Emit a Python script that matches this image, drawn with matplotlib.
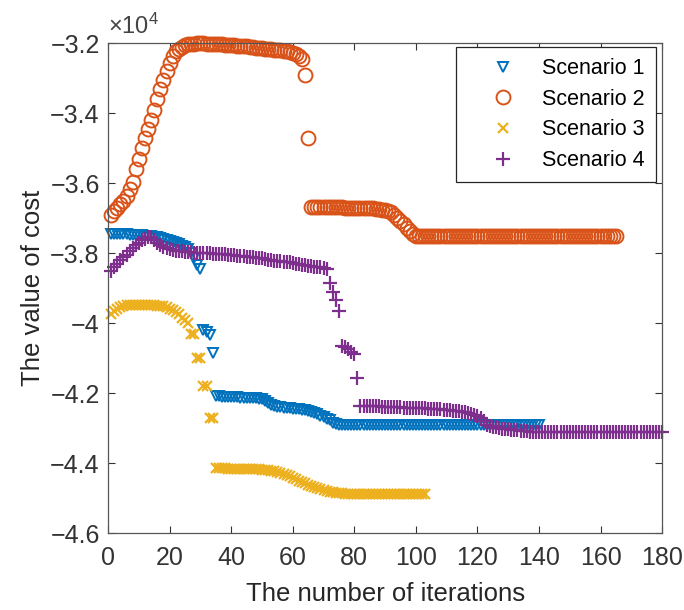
import numpy as np
import matplotlib
matplotlib.use('Agg')
import matplotlib.pyplot as plt
from matplotlib.ticker import FuncFormatter

# best cost per iteration (units of 1e4)
cost_s1 = [
    -3.745, -3.745, -3.745, -3.745, -3.746, -3.746, -3.747, -3.747, -3.748, -3.748,
    -3.749, -3.750, -3.751, -3.752, -3.753, -3.755, -3.757, -3.759, -3.761, -3.764,
    -3.767, -3.770, -3.774, -3.778, -3.783, -3.788, -3.800, -3.815, -3.835, -3.845,
    -4.020, -4.025, -4.035, -4.085, -4.208, -4.209, -4.210, -4.210, -4.211, -4.211,
    -4.212, -4.212, -4.213, -4.213, -4.214, -4.214, -4.215, -4.215, -4.216, -4.218,
    -4.222, -4.228, -4.233, -4.237, -4.239, -4.240, -4.241, -4.242, -4.243, -4.244,
    -4.245, -4.246, -4.247, -4.248, -4.250, -4.253, -4.256, -4.260, -4.264, -4.268,
    -4.273, -4.278, -4.284, -4.289, -4.291, -4.291, -4.291, -4.291, -4.291, -4.291,
    -4.291, -4.291, -4.291, -4.291, -4.291, -4.291, -4.291, -4.291, -4.291, -4.291,
    -4.291, -4.291, -4.291, -4.291, -4.291, -4.291, -4.291, -4.291, -4.291, -4.291,
    -4.291, -4.291, -4.291, -4.291, -4.291, -4.291, -4.291, -4.291, -4.291, -4.291,
    -4.291, -4.291, -4.291, -4.291, -4.291, -4.291, -4.291, -4.291, -4.291, -4.291,
    -4.291, -4.291, -4.291, -4.291, -4.291, -4.291, -4.291, -4.291, -4.291, -4.291,
    -4.291, -4.291, -4.291, -4.291, -4.291, -4.291, -4.291, -4.291, -4.291, -4.291,
]

cost_s2 = [
    -3.690, -3.680, -3.670, -3.660, -3.650, -3.635, -3.615, -3.595, -3.560, -3.530,
    -3.500, -3.470, -3.445, -3.420, -3.390, -3.360, -3.330, -3.305, -3.280, -3.255,
    -3.235, -3.222, -3.215, -3.210, -3.205, -3.203, -3.202, -3.201, -3.200, -3.200,
    -3.200, -3.201, -3.201, -3.202, -3.202, -3.203, -3.203, -3.204, -3.205, -3.205,
    -3.206, -3.207, -3.208, -3.208, -3.209, -3.210, -3.211, -3.212, -3.213, -3.214,
    -3.215, -3.216, -3.217, -3.218, -3.219, -3.220, -3.222, -3.223, -3.225, -3.227,
    -3.230, -3.235, -3.245, -3.290, -3.470, -3.667, -3.667, -3.667, -3.668, -3.668,
    -3.668, -3.668, -3.669, -3.669, -3.669, -3.669, -3.670, -3.670, -3.670, -3.670,
    -3.671, -3.671, -3.671, -3.672, -3.672, -3.672, -3.673, -3.674, -3.675, -3.677,
    -3.679, -3.683, -3.690, -3.698, -3.707, -3.717, -3.727, -3.737, -3.745, -3.750,
    -3.751, -3.751, -3.751, -3.751, -3.751, -3.751, -3.751, -3.751, -3.751, -3.751,
    -3.751, -3.751, -3.751, -3.751, -3.751, -3.751, -3.751, -3.751, -3.751, -3.751,
    -3.751, -3.751, -3.751, -3.751, -3.751, -3.751, -3.751, -3.751, -3.751, -3.751,
    -3.751, -3.751, -3.751, -3.751, -3.751, -3.751, -3.751, -3.751, -3.751, -3.751,
    -3.751, -3.751, -3.751, -3.751, -3.751, -3.751, -3.751, -3.751, -3.751, -3.751,
    -3.751, -3.751, -3.751, -3.751, -3.751, -3.751, -3.751, -3.751, -3.751, -3.751,
    -3.751, -3.751, -3.751, -3.751, -3.751,
]

cost_s3 = [
    -3.975, -3.965, -3.958, -3.953, -3.950, -3.948, -3.947, -3.947, -3.947, -3.947,
    -3.948, -3.948, -3.948, -3.949, -3.949, -3.950, -3.951, -3.952, -3.955, -3.958,
    -3.962, -3.968, -3.975, -3.985, -3.992, -4.000, -4.030, -4.030, -4.100, -4.100,
    -4.180, -4.180, -4.270, -4.270, -4.415, -4.415, -4.415, -4.415, -4.416, -4.416,
    -4.416, -4.416, -4.417, -4.417, -4.417, -4.417, -4.418, -4.418, -4.418, -4.419,
    -4.419, -4.420, -4.421, -4.423, -4.425, -4.428, -4.431, -4.434, -4.438, -4.442,
    -4.446, -4.450, -4.454, -4.458, -4.462, -4.465, -4.468, -4.471, -4.474, -4.477,
    -4.479, -4.481, -4.483, -4.484, -4.485, -4.486, -4.487, -4.488, -4.489, -4.489,
    -4.489, -4.489, -4.489, -4.489, -4.489, -4.489, -4.489, -4.489, -4.489, -4.489,
    -4.489, -4.489, -4.489, -4.489, -4.489, -4.489, -4.489, -4.489, -4.489, -4.489,
    -4.489, -4.489, -4.489,
]

cost_s4 = [
    -3.850, -3.840, -3.830, -3.820, -3.812, -3.805, -3.795, -3.785, -3.777, -3.770,
    -3.763, -3.758, -3.754, -3.755, -3.762, -3.770, -3.776, -3.782, -3.786, -3.789,
    -3.791, -3.793, -3.794, -3.795, -3.796, -3.797, -3.797, -3.798, -3.798, -3.799,
    -3.799, -3.800, -3.800, -3.801, -3.801, -3.802, -3.802, -3.803, -3.804, -3.805,
    -3.806, -3.807, -3.808, -3.809, -3.810, -3.811, -3.812, -3.813, -3.814, -3.815,
    -3.816, -3.818, -3.820, -3.821, -3.822, -3.823, -3.824, -3.825, -3.826, -3.828,
    -3.830, -3.832, -3.834, -3.835, -3.836, -3.837, -3.838, -3.839, -3.840, -3.842,
    -3.845, -3.885, -3.910, -3.935, -3.965, -4.065, -4.068, -4.075, -4.082, -4.087,
    -4.158, -4.237, -4.237, -4.237, -4.238, -4.238, -4.238, -4.238, -4.239, -4.239,
    -4.239, -4.239, -4.240, -4.240, -4.240, -4.241, -4.241, -4.241, -4.242, -4.242,
    -4.242, -4.243, -4.243, -4.244, -4.244, -4.245, -4.245, -4.246, -4.247, -4.248,
    -4.249, -4.250, -4.251, -4.252, -4.253, -4.255, -4.257, -4.259, -4.261, -4.264,
    -4.270, -4.280, -4.290, -4.293, -4.296, -4.298, -4.300, -4.301, -4.302, -4.303,
    -4.304, -4.305, -4.306, -4.307, -4.308, -4.309, -4.310, -4.310, -4.310, -4.310,
    -4.310, -4.310, -4.310, -4.310, -4.310, -4.310, -4.310, -4.310, -4.310, -4.310,
    -4.310, -4.310, -4.310, -4.310, -4.310, -4.310, -4.310, -4.310, -4.310, -4.310,
    -4.310, -4.310, -4.310, -4.310, -4.310, -4.310, -4.310, -4.310, -4.310, -4.310,
    -4.310, -4.310, -4.310, -4.310, -4.310, -4.310, -4.310, -4.310, -4.310, -4.310,
]

labels = ['Scenario 1', 'Scenario 2', 'Scenario 3', 'Scenario 4']
x_ticks = [0, 20, 40, 60, 80, 100, 120, 140, 160, 180]
y_ticks = [-4.6, -4.4, -4.2, -4.0, -3.8, -3.6, -3.4, -3.2]

plt.rcParams['font.family'] = ['Liberation Sans', 'DejaVu Sans']
plt.rcParams['mathtext.default'] = 'regular'

fig = plt.figure(figsize=(6.84, 6.10), dpi=100)
ax = fig.add_axes([0.158, 0.126, 0.810, 0.803])

styles = [
    dict(marker='v', color='#0072BD', ms=7.5, mfc='none', mew=1.4),
    dict(marker='o', color='#D95319', ms=10, mfc='none', mew=1.4),
    dict(marker='x', color='#EDB120', ms=7.5, mew=1.6),
    dict(marker='+', color='#7E2F8E', ms=9.5, mew=1.6),
]
for cost, lab, st in zip([cost_s1, cost_s2, cost_s3, cost_s4], labels, styles):
    y = np.array(cost) * 1e4
    it = np.arange(1, len(y) + 1)
    ax.plot(it, y, linestyle='none', label=lab, clip_on=False, **st)

ax.set_xlim(0, 180)
ax.set_ylim(-4.6e4, -3.2e4)
ax.set_xticks(x_ticks)
ax.set_yticks(np.array(y_ticks) * 1e4)
ax.yaxis.set_major_formatter(FuncFormatter(lambda v, p: f'{v / 1e4:g}'.replace('-', '\u2212')))

ax.tick_params(direction='in', top=True, right=True, length=5, width=0.8,
               labelsize=18, colors='#333333')
ax.tick_params(axis='x', pad=9)
ax.tick_params(axis='y', pad=6)
for sp in ax.spines.values():
    sp.set_color('#555555')
    sp.set_linewidth(0.9)

ax.set_xlabel('The number of iterations', fontsize=18.5, color='#262626', labelpad=9)
ax.set_ylabel('The value of cost', fontsize=18.5, color='#262626', labelpad=4)
ax.text(0.0, 1.008, '×10$^{4}$', transform=ax.transAxes, fontsize=17,
        color='#444444', ha='left', va='bottom')

leg = ax.legend(loc='upper right', bbox_to_anchor=(1 - 6.5 / 554, 1 - 4 / 490),
                borderaxespad=0, fontsize=15.5, frameon=True, fancybox=False,
                framealpha=1, edgecolor='#262626', borderpad=0.5, handlelength=3.4,
                handletextpad=0.1, labelspacing=0.45)
leg.get_frame().set_linewidth(0.9)

fig.savefig('out.png', dpi=100)
